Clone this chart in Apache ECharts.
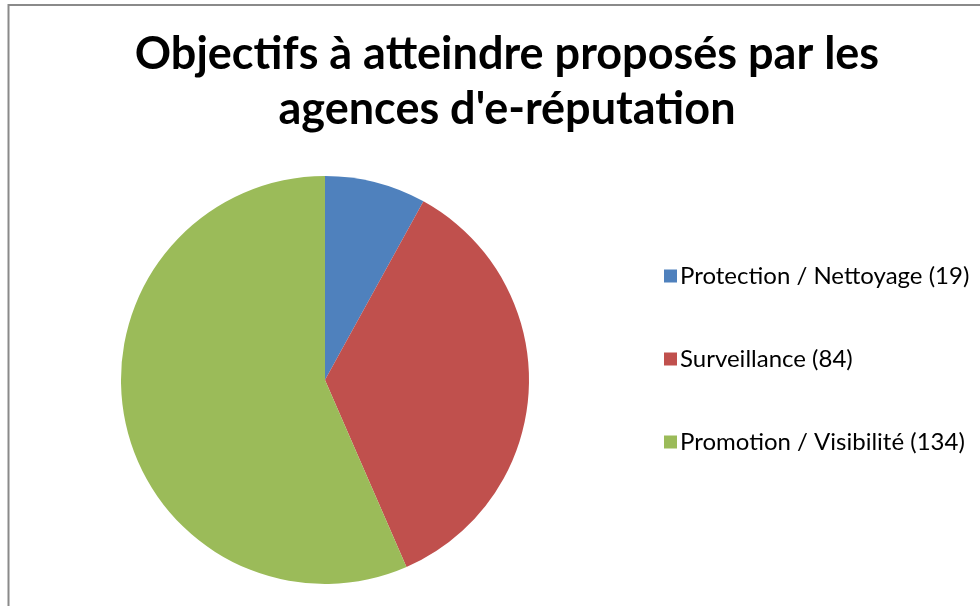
<!DOCTYPE html>
<html>
<head>
<meta charset="utf-8">
<script src="https://cdn.jsdelivr.net/npm/echarts@6/dist/echarts.min.js"></script>
<style>
html,body{margin:0;padding:0;background:#fff;}
#chart{width:980px;height:606px;}
</style>
</head>
<body>
<div id="chart"></div>
<script>
var titleLines = ['Objectifs à atteindre proposés par les', "agences d'e-réputation"];
var categories = ['Protection / Nettoyage (19)', 'Surveillance (84)', 'Promotion / Visibilité (134)'];
var values = [19, 84, 134];
var colors = ['#4F81BD', '#C0504D', '#9BBB59'];

var chart = echarts.init(document.getElementById('chart'));
chart.setOption({
  backgroundColor: '#ffffff',
  animation: false,
  title: {
    text: titleLines.join('\n'),
    left: 502,
    textAlign: 'center',
    top: 22,
    textStyle: {
      fontFamily: 'Lato',
      fontWeight: 'bold',
      fontSize: 45,
      lineHeight: 55,
      color: '#000'
    }
  },
  legend: {
    orient: 'vertical',
    left: 659,
    top: 259,
    itemWidth: 13,
    itemHeight: 13,
    itemGap: 59,
    icon: 'rect',
    data: categories,
    textStyle: {
      fontFamily: 'Lato',
      fontSize: 24,
      color: '#000',
      padding: [0, 0, 0, -2]
    }
  },
  graphic: [{
    type: 'polyline',
    shape: { points: [[8.5, 620], [8.5, 5], [1000, 5]] },
    style: { stroke: '#8a8a8a', lineWidth: 2, fill: null },
    silent: true
  }],
  series: [{
    type: 'pie',
    center: [325, 380],
    radius: 204,
    startAngle: 90,
    clockwise: true,
    label: { show: false },
    labelLine: { show: false },
    emphasis: { scale: false },
    itemStyle: { borderWidth: 0 },
    data: categories.map(function (c, i) {
      return { name: c, value: values[i], itemStyle: { color: colors[i] } };
    })
  }]
});
</script>
</body>
</html>
